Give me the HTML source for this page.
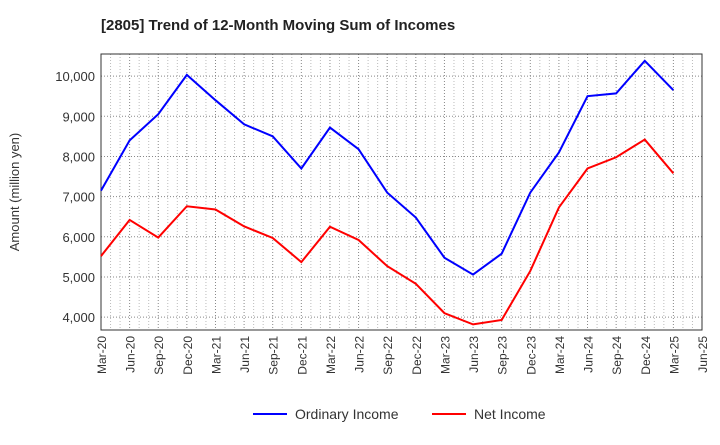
<!DOCTYPE html>
<html><head><meta charset="utf-8"><style>
body{margin:0;background:#fff;font-family:"Liberation Sans",sans-serif}
</style></head><body>
<svg id="c" width="720" height="440" xmlns="http://www.w3.org/2000/svg">
<text x="101" y="30" font-size="15" font-weight="bold" fill="#222">[2805]  Trend of 12-Month Moving Sum of Incomes</text>
<text transform="translate(19,192) rotate(-90)" text-anchor="middle" font-size="13" fill="#333">Amount (million yen)</text>
<g id="grid"></g><g id="axes"></g><g id="series"></g>
<g>
<line x1="253" y1="414" x2="287" y2="414" stroke="#0000ff" stroke-width="2"/>
<text x="295" y="419" font-size="14" fill="#333">Ordinary Income</text>
<line x1="432" y1="414" x2="466" y2="414" stroke="#ff0000" stroke-width="2"/>
<text x="474" y="419" font-size="14" fill="#333">Net Income</text>
</g>
</svg>
<script>
const categories=["Mar-20","Jun-20","Sep-20","Dec-20","Mar-21","Jun-21","Sep-21","Dec-21","Mar-22","Jun-22","Sep-22","Dec-22","Mar-23","Jun-23","Sep-23","Dec-23","Mar-24","Jun-24","Sep-24","Dec-24","Mar-25","Jun-25"];
const ordinaryIncome=[7150,8400,9050,10030,9400,8800,8500,7700,8720,8180,7100,6480,5480,5060,5580,7100,8100,9500,9570,10380,9650];
const netIncome=[5520,6420,5980,6760,6680,6260,5970,5370,6250,5920,5270,4830,4100,3820,3930,5150,6730,7700,7980,8420,7580];
const yTicks=[4000,5000,6000,7000,8000,9000,10000];
const L=101,R=702,T=54,B=330,yMin=3680,yMax=10550;
const NS="http://www.w3.org/2000/svg";
const qw=(R-L)/(categories.length-1);
const x=i=>L+i*qw, y=v=>B-(v-yMin)/(yMax-yMin)*(B-T);
function mk(tag,attrs,parent){const e=document.createElementNS(NS,tag);for(const k in attrs)e.setAttribute(k,attrs[k]);document.getElementById(parent).appendChild(e);return e;}
for(let m=0;m<=(categories.length-1)*3;m++){const xx=L+m*qw/3;
 const g=mk('line',{x1:xx,x2:xx,y1:T,y2:B,stroke:m%3?'#bbb':'#888','stroke-dasharray':'1,2','stroke-width':1},'grid');
 
 }
yTicks.forEach(v=>{const g=mk('line',{x1:L,x2:R,y1:y(v),y2:y(v),stroke:'#888','stroke-dasharray':'1,2'},'grid');
 
 
 const t=mk('text',{x:L-6,y:y(v)+5,'text-anchor':'end','font-size':13,fill:'#333'},'axes');t.textContent=v.toLocaleString('en-US');
 
 });
const fr=mk('rect',{x:L,y:T,width:R-L,height:B-T,fill:'none',stroke:'#333'},'axes');


categories.forEach((c,i)=>{const t=mk('text',{transform:`translate(${x(i)+5},${B+6}) rotate(-90)`,'text-anchor':'end','font-size':12,fill:'#333'},'axes');t.textContent=c;
 
 });
function line(d,col,name){const p=mk('polyline',{points:d.map((v,i)=>x(i)+','+y(v)).join(' '),fill:'none',stroke:col,'stroke-width':2},'series');
 
 }
line(ordinaryIncome,'#0000ff','ordinary-income-line');
line(netIncome,'#ff0000','net-income-line');
</script>
</body></html>
